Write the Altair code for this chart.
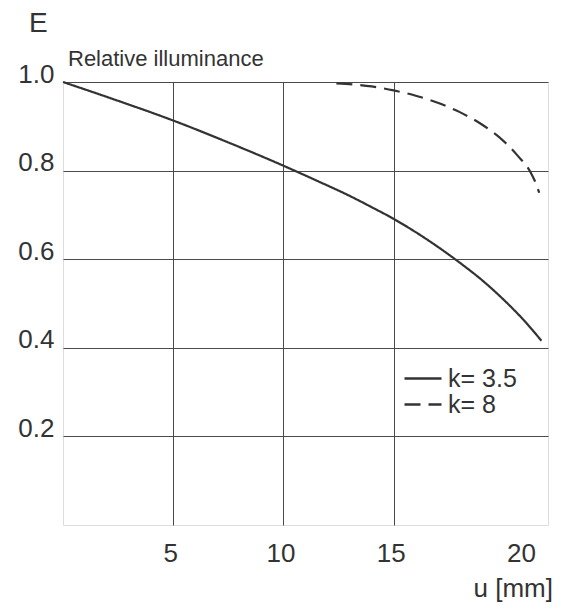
import altair as alt
import pandas as pd

# k = 3.5 (solid)
u_k35 = [0, 2.5, 5, 7.5, 10, 11.5, 13, 14, 15, 16, 17, 18, 19, 20, 21, 21.7]
e_k35 = [1.0, 0.9575, 0.913, 0.8635, 0.811, 0.7775, 0.743, 0.7175, 0.691, 0.661,
         0.628, 0.592, 0.553, 0.508, 0.457, 0.416]
# k = 8 (dashed)
u_k8 = [12.4, 14, 15, 16, 17, 18, 19, 20, 20.6, 21.2, 21.4, 21.6]
e_k8 = [0.997, 0.990, 0.981, 0.969, 0.953, 0.932, 0.904, 0.866, 0.835, 0.797, 0.777, 0.750]
series = ["k= 3.5", "k= 8"]
x_ticks = [5, 10, 15, 20]
y_ticks = [0.2, 0.4, 0.6, 0.8, 1.0]

FONT = "Liberation Sans"
INK = "#333333"
GRID = "#4a4a4a"

df = pd.concat([
    pd.DataFrame({"u": u_k35, "E": e_k35, "k": series[0]}),
    pd.DataFrame({"u": u_k8, "E": e_k8, "k": series[1]}),
])

x = alt.X("u:Q", scale=alt.Scale(domain=[0, 22], nice=False, zero=False),
          axis=alt.Axis(values=x_ticks, title=None, ticks=False, domain=False,
                        grid=True, gridColor=GRID, gridWidth=1,
                        gridOpacity={"condition": {"test": "datum.value == 20", "value": 0}, "value": 1},
                        labelFont=FONT, labelFontSize=26, labelColor=INK,
                        labelPadding=15, labelFlush=False,
                        labelOffset={"condition": {"test": "datum.value == 20", "value": 17}, "value": -3}))
y = alt.Y("E:Q", scale=alt.Scale(domain=[0, 1], nice=False),
          axis=alt.Axis(values=y_ticks, format=".1f", title=None, ticks=False, domain=False,
                        grid=True, gridColor=GRID, gridWidth=1,
                        labelFont=FONT, labelFontSize=26, labelColor=INK,
                        labelPadding=9, labelFlush=False, labelBaseline="alphabetic"))

lines = alt.Chart(df).mark_line(color=INK, strokeWidth=2.2, interpolate="monotone").encode(
    x=x, y=y,
    strokeDash=alt.StrokeDash("k:N", scale=alt.Scale(domain=series, range=[[1, 0], [16, 8]]),
                              legend=alt.Legend(orient="none", legendX=340, legendY=284, title=None,
                                                symbolType="stroke", symbolSize=1369,
                                                symbolStrokeWidth=2.5, symbolStrokeColor=INK,
                                                labelFont=FONT, labelFontSize=25, labelColor=INK,
                                                labelOffset=5, clipHeight=25, rowPadding=0,
                                                padding=0)),
)

txt_E = alt.Chart(pd.DataFrame({"t": ["E"]})).mark_text(
    font=FONT, fontSize=28, color=INK, align="left", baseline="alphabetic"
).encode(text="t:N", x=alt.value(-34), y=alt.value(-50))

txt_rel = alt.Chart(pd.DataFrame({"t": ["Relative illuminance"]})).mark_text(
    font=FONT, fontSize=22, color=INK, align="left", baseline="alphabetic"
).encode(text="t:N", x=alt.value(5), y=alt.value(-16))

txt_u = alt.Chart(pd.DataFrame({"t": ["u [mm]"]})).mark_text(
    font=FONT, fontSize=26, color=INK, align="right", baseline="alphabetic"
).encode(text="t:N", x=alt.value(490), y=alt.value(515))

chart = alt.layer(lines, txt_E, txt_rel, txt_u).properties(
    width=485, height=443,
    padding={"left": 55, "top": 74, "right": 7, "bottom": 78},
    autosize="none",
).configure_view(stroke=GRID, strokeWidth=1.3).configure(background="white")

chart.save("out.html", embed_options={"renderer": "svg", "actions": False})
